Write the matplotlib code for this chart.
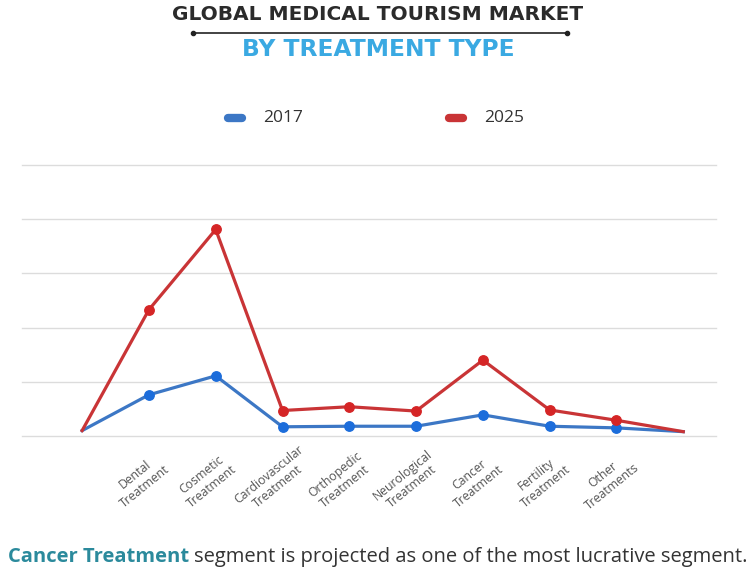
import matplotlib.pyplot as plt
from matplotlib.transforms import ScaledTranslation

plt.rcParams["font.family"] = ["Open Sans", "DejaVu Sans"]

# endpoints at either side carry no label and no marker
categories = ["", "Dental\nTreatment", "Cosmetic\nTreatment", "Cardiovascular\nTreatment",
              "Orthopedic\nTreatment", "Neurological\nTreatment", "Cancer\nTreatment",
              "Fertility\nTreatment", "Other\nTreatments", ""]
values_2017 = [0.10, 0.76, 1.11, 0.17, 0.18, 0.18, 0.39, 0.18, 0.15, 0.08]
values_2025 = [0.10, 2.33, 3.81, 0.47, 0.54, 0.46, 1.40, 0.48, 0.29, 0.08]
y_ticks = [0, 1, 2, 3, 4, 5]

blue_line, blue_dot = "#3c77c5", "#1c6ddb"
red_line, red_dot = "#c93436", "#d52526"

fig = plt.figure(figsize=(7.56, 5.70), dpi=100)
ax = fig.add_axes([22 / 756, 1 - 436 / 570, (716 - 22) / 756, (436 - 165) / 570])

x = list(range(len(categories)))
inner = x[1:-1]

for vals, lc, dc in [(values_2017, blue_line, blue_dot), (values_2025, red_line, red_dot)]:
    ax.plot(x, vals, color=lc, lw=2.3, solid_joinstyle="round", zorder=3)
    ax.plot(inner, vals[1:-1], "o", color=dc, ms=6.8, zorder=4)

for t in y_ticks:
    ax.axhline(t, color="#dcdcdc", lw=1.0, zorder=1, clip_on=False)

ax.set_xlim(-0.9, 9.49)
ax.set_ylim(0, 5)
ax.set_xticks([])
ax.set_yticks([])
for s in ax.spines.values():
    s.set_visible(False)

# rotated category labels, centred a little left of each point
shift = ScaledTranslation(-9 / 100, 0, fig.dpi_scale_trans)
for i in inner:
    ax.text(i, -0.165, categories[i], transform=ax.get_xaxis_transform() + shift,
            rotation=39, ha="center", va="center", rotation_mode="anchor",
            multialignment="center", fontsize=8.8, color="#555555")

# title block
fig.text(0.5, 1 - 15 / 570, "GLOBAL MEDICAL TOURISM MARKET", ha="center", va="center",
         fontsize=14.5, fontweight="bold", color="#2b2b2b", family="DejaVu Sans")
fig.add_artist(plt.Line2D([193 / 756, 567 / 756], [1 - 33 / 570] * 2, color="#222222", lw=1.2,
                          marker="o", ms=3, markevery=[0, 1]))
fig.text(0.5, 1 - 49 / 570, "BY TREATMENT TYPE", ha="center", va="center",
         fontsize=16.8, fontweight="bold", color="#3aa9e2", family="DejaVu Sans")

# legend
for lx, color, label in [(235, blue_line, "2017"), (456, red_line, "2025")]:
    fig.add_artist(plt.Line2D([(lx - 7) / 756, (lx + 7) / 756], [1 - 118 / 570] * 2,
                              color=color, lw=6, solid_capstyle="round"))
    fig.text((lx + 28) / 756, 1 - 118 / 570, label, ha="left", va="center",
             fontsize=12.5, color="#333333")

# footer note
t1 = fig.text(8 / 756, 1 - 557 / 570, "Cancer Treatment", ha="left", va="center",
              fontsize=14.5, fontweight="bold", color="#2b8a9c")
fig.canvas.draw()
bb = t1.get_window_extent()
fig.text(bb.x1 / fig.bbox.width + 0.006, 1 - 557 / 570,
         "segment is projected as one of the most lucrative segment.",
         ha="left", va="center", fontsize=14.5, color="#333333")

fig.savefig("out.png", dpi=100)
